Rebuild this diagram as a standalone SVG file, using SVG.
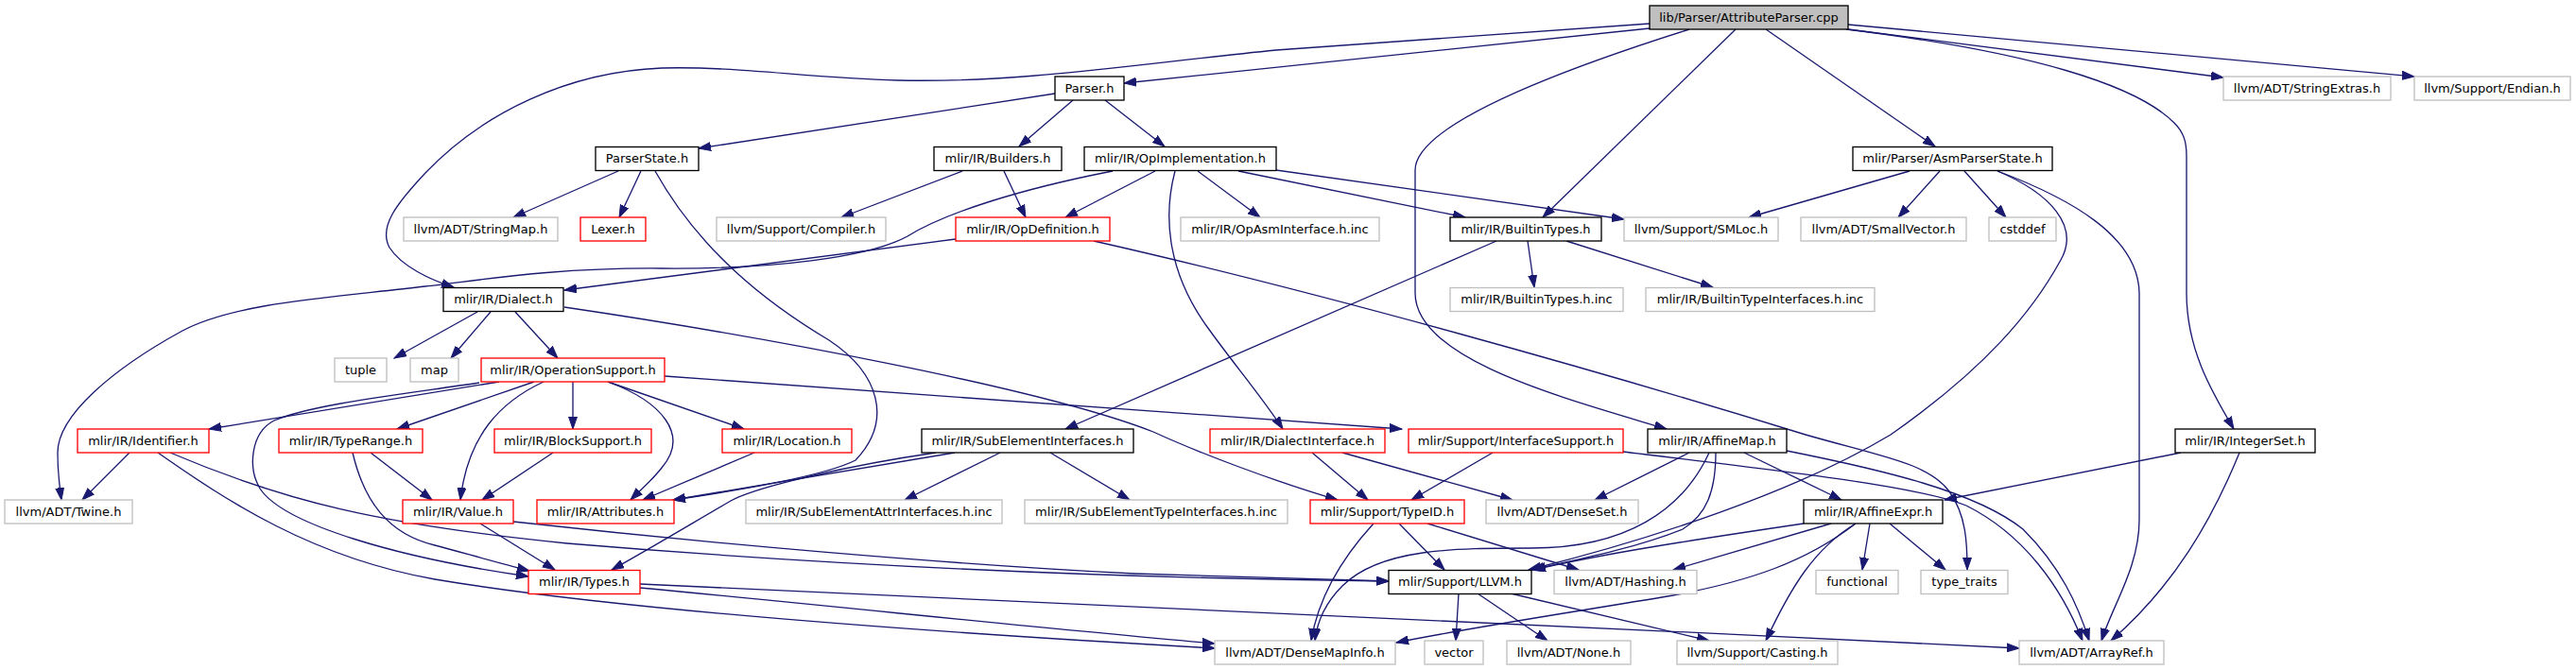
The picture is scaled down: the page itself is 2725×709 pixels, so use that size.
<svg xmlns="http://www.w3.org/2000/svg" width="2725" height="709" viewBox="0 0 2725 709">
<style>
rect{stroke-width:1.33;fill:#fff}
.k rect{stroke:#000}
.g rect{stroke:#bfbfbf}
.r rect{stroke:#ff0000}
.root rect{stroke:#000;fill:#bfbfbf}
text{font-family:"DejaVu Sans","Liberation Sans",sans-serif;font-size:13px;fill:#000;text-anchor:middle}
#edges path{fill:none;stroke:#191970;stroke-width:1.33;marker-end:url(#ah)}
</style>
<defs>
<marker id="ah" markerUnits="userSpaceOnUse" markerWidth="14" markerHeight="10" refX="13" refY="5" orient="auto">
<path d="M0,0.5 L13,5 L0,9.5 z" fill="#191970" stroke="#191970" stroke-width="1"/>
</marker>
</defs>
<g id="edges">
<path d="M1745,30 L1189,88"/>
<path d="M1745,25 L1350,53 C1200,68 1080,88 950,85 C850,82 780,70 700,72 C600,76 510,120 450,183 C420,215 400,240 412,262 C425,282 455,296 480,304"/>
<path d="M1836,31 L1632,230"/>
<path d="M1787,31 C1600,90 1497,140 1497,180 L1497,310 C1497,380 1650,420 1763,454"/>
<path d="M1868,31 L2047,155"/>
<path d="M1955,31 L2352,82"/>
<path d="M1955,26 L2554,81"/>
<path d="M1953,31 C2150,55 2260,90 2300,130 C2310,140 2313,150 2313,165 L2313,310 C2313,370 2340,415 2363,454"/>
<path d="M1116,99 L739,157"/>
<path d="M1135,106 L1078,155"/>
<path d="M1169,106 L1232,155"/>
<path d="M654,181 L543,230"/>
<path d="M678,181 L655,230"/>
<path d="M693,181 C740,265 810,320 877,360 C930,395 945,445 905,487 C870,505 760,522 712,529"/>
<path d="M1018,181 L890,230"/>
<path d="M1062,181 L1085,230"/>
<path d="M1222,181 L1127,230"/>
<path d="M1267,181 L1333,230"/>
<path d="M1310,181 L1550,230"/>
<path d="M1350,180 L1718,232"/>
<path d="M1243,181 C1230,230 1235,290 1280,350 C1305,385 1335,420 1357,454"/>
<path d="M1177,181 C1080,200 1000,225 960,250 C920,272 820,285 700,284 C580,283 500,298 450,303 C350,315 250,320 193,350 C120,390 60,440 61,480 C61,500 63,515 65,529"/>
<path d="M1011,253 L597,307"/>
<path d="M1157,255 C1400,310 1700,395 1910,460 C1990,483 2040,490 2062,520 C2080,545 2081,575 2081,603"/>
<path d="M505,330 L417,379"/>
<path d="M519,330 L477,379"/>
<path d="M545,330 L590,379"/>
<path d="M597,325 C800,355 1100,410 1220,457 C1270,480 1350,510 1415,529"/>
<path d="M2020,181 L1850,230"/>
<path d="M2052,181 L2008,230"/>
<path d="M2078,181 L2122,230"/>
<path d="M2113,181 C2170,205 2200,240 2180,275 C2150,330 2100,390 2000,460 C1900,520 1750,570 1617,603"/>
<path d="M2113,181 C2190,210 2262,250 2263,310 L2263,550 C2263,600 2235,640 2223,678"/>
<path d="M528,404 L221,454"/>
<path d="M507,405 C420,418 330,428 290,445 C265,458 262,495 275,517 C300,555 420,590 559,610"/>
<path d="M565,404 L420,454"/>
<path d="M606,404 L606,454"/>
<path d="M575,404 C530,425 495,460 487,529"/>
<path d="M643,404 C700,425 730,460 700,495 C690,508 678,518 667,529"/>
<path d="M643,404 L787,454"/>
<path d="M703,398 L1483,454"/>
<path d="M137,479 L87,529"/>
<path d="M180,479 C300,530 400,555 600,575 C900,600 1200,612 1469,615"/>
<path d="M167,479 C240,530 330,590 460,613 C650,645 1000,670 1285,686"/>
<path d="M392,479 L457,529"/>
<path d="M373,479 C385,530 410,565 460,577 C490,585 525,595 560,604"/>
<path d="M585,479 L510,529"/>
<path d="M798,479 L680,529"/>
<path d="M508,554 L587,603"/>
<path d="M543,552 C750,575 1000,597 1200,607 L1469,615"/>
<path d="M677,622 C900,643 1100,665 1285,681"/>
<path d="M677,618 C1000,630 1600,660 2136,686"/>
<path d="M1058,479 L957,529"/>
<path d="M1111,479 L1195,529"/>
<path d="M1010,479 L712,529"/>
<path d="M990,479 C900,492 800,515 773,530 C730,555 680,585 647,603"/>
<path d="M1388,479 L1447,529"/>
<path d="M1420,479 L1600,529"/>
<path d="M1579,479 L1493,529"/>
<path d="M1717,478 C1900,500 2030,515 2080,535 C2140,565 2180,620 2203,678"/>
<path d="M1453,554 C1420,590 1395,630 1387,678"/>
<path d="M1480,554 L1528,603"/>
<path d="M1510,554 L1670,603"/>
<path d="M1787,479 L1687,529"/>
<path d="M1845,479 L1948,529"/>
<path d="M1890,477 C1990,497 2090,520 2140,560 C2180,600 2198,640 2210,678"/>
<path d="M1815,479 C1815,520 1805,545 1780,560 C1730,580 1670,592 1620,603"/>
<path d="M1808,479 C1780,540 1720,580 1620,580 C1540,580 1460,580 1420,620 C1400,640 1393,660 1391,678"/>
<path d="M1908,554 C1800,570 1700,585 1622,603"/>
<path d="M1937,554 L1770,603"/>
<path d="M1963,554 C1910,595 1850,615 1770,630 C1650,650 1550,665 1477,680"/>
<path d="M1963,554 C1920,580 1895,620 1868,678"/>
<path d="M1978,554 L1970,603"/>
<path d="M1999,554 L2058,603"/>
<path d="M2307,479 L2057,529"/>
<path d="M2369,479 C2340,550 2300,620 2233,678"/>
<path d="M1543,628 L1540,678"/>
<path d="M1563,628 L1637,678"/>
<path d="M1598,628 L1808,678"/>
<path d="M1583,255 L1127,454"/>
<path d="M1616,255 L1623,304"/>
<path d="M1657,255 L1812,304"/>
</g>
<g id="n_root" class="root"><rect x="1745" y="6" width="210" height="25"/><text x="1850" y="22.5">lib/Parser/AttributeParser.cpp</text></g>
<g id="n_parser" class="k"><rect x="1116" y="81" width="73" height="25"/><text x="1152.5" y="97.5">Parser.h</text></g>
<g id="n_stringextras" class="g"><rect x="2352" y="81" width="177" height="25"/><text x="2440.5" y="97.5">llvm/ADT/StringExtras.h</text></g>
<g id="n_endian" class="g"><rect x="2554" y="81" width="165" height="25"/><text x="2636.5" y="97.5">llvm/Support/Endian.h</text></g>
<g id="n_parserstate" class="k"><rect x="630" y="155.5" width="109" height="25"/><text x="684.5" y="172">ParserState.h</text></g>
<g id="n_builders" class="k"><rect x="988" y="155.5" width="135" height="25"/><text x="1055.5" y="172">mlir/IR/Builders.h</text></g>
<g id="n_opimpl" class="k"><rect x="1147" y="155.5" width="203" height="25"/><text x="1248.5" y="172">mlir/IR/OpImplementation.h</text></g>
<g id="n_asmparserstate" class="k"><rect x="1960" y="155.5" width="211" height="25"/><text x="2065.5" y="172">mlir/Parser/AsmParserState.h</text></g>
<g id="n_stringmap" class="g"><rect x="427" y="230" width="163" height="25"/><text x="508.5" y="246.5">llvm/ADT/StringMap.h</text></g>
<g id="n_lexer" class="r"><rect x="614" y="230" width="69" height="25"/><text x="648.5" y="246.5">Lexer.h</text></g>
<g id="n_compiler" class="g"><rect x="758" y="230" width="179" height="25"/><text x="847.5" y="246.5">llvm/Support/Compiler.h</text></g>
<g id="n_opdef" class="r"><rect x="1011" y="230" width="163" height="25"/><text x="1092.5" y="246.5">mlir/IR/OpDefinition.h</text></g>
<g id="n_opasm" class="g"><rect x="1249" y="230" width="210" height="25"/><text x="1354" y="246.5">mlir/IR/OpAsmInterface.h.inc</text></g>
<g id="n_builtintypes" class="k"><rect x="1534" y="230" width="160" height="25"/><text x="1614" y="246.5">mlir/IR/BuiltinTypes.h</text></g>
<g id="n_smloc" class="g"><rect x="1718" y="230" width="163" height="25"/><text x="1799.5" y="246.5">llvm/Support/SMLoc.h</text></g>
<g id="n_smallvector" class="g"><rect x="1905" y="230" width="175" height="25"/><text x="1992.5" y="246.5">llvm/ADT/SmallVector.h</text></g>
<g id="n_cstddef" class="g"><rect x="2104" y="230" width="71" height="25"/><text x="2139.5" y="246.5">cstddef</text></g>
<g id="n_dialect" class="k"><rect x="469" y="304.5" width="127" height="25"/><text x="532.5" y="321">mlir/IR/Dialect.h</text></g>
<g id="n_btinc" class="g"><rect x="1534" y="304.5" width="183" height="25"/><text x="1625.5" y="321">mlir/IR/BuiltinTypes.h.inc</text></g>
<g id="n_btiinc" class="g"><rect x="1741" y="304.5" width="242" height="25"/><text x="1862" y="321">mlir/IR/BuiltinTypeInterfaces.h.inc</text></g>
<g id="n_tuple" class="g"><rect x="354" y="379" width="55" height="25"/><text x="381.5" y="395.5">tuple</text></g>
<g id="n_map" class="g"><rect x="434" y="379" width="51" height="25"/><text x="459.5" y="395.5">map</text></g>
<g id="n_opsupport" class="r"><rect x="509" y="379" width="194" height="25"/><text x="606" y="395.5">mlir/IR/OperationSupport.h</text></g>
<g id="n_identifier" class="r"><rect x="82" y="454" width="139" height="25"/><text x="151.5" y="470.5">mlir/IR/Identifier.h</text></g>
<g id="n_typerange" class="r"><rect x="295" y="454" width="152" height="25"/><text x="371" y="470.5">mlir/IR/TypeRange.h</text></g>
<g id="n_blocksupport" class="r"><rect x="523" y="454" width="166" height="25"/><text x="606" y="470.5">mlir/IR/BlockSupport.h</text></g>
<g id="n_location" class="r"><rect x="764" y="454" width="137" height="25"/><text x="832.5" y="470.5">mlir/IR/Location.h</text></g>
<g id="n_subelem" class="k"><rect x="975" y="454" width="224" height="25"/><text x="1087" y="470.5">mlir/IR/SubElementInterfaces.h</text></g>
<g id="n_dialectif" class="r"><rect x="1280" y="454" width="185" height="25"/><text x="1372.5" y="470.5">mlir/IR/DialectInterface.h</text></g>
<g id="n_ifsupport" class="r"><rect x="1490" y="454" width="227" height="25"/><text x="1603.5" y="470.5">mlir/Support/InterfaceSupport.h</text></g>
<g id="n_affinemap" class="k"><rect x="1743" y="454" width="147" height="25"/><text x="1816.5" y="470.5">mlir/IR/AffineMap.h</text></g>
<g id="n_integerset" class="k"><rect x="2301" y="454" width="148" height="25"/><text x="2375" y="470.5">mlir/IR/IntegerSet.h</text></g>
<g id="n_twine" class="g"><rect x="5" y="529" width="135" height="25"/><text x="72.5" y="545.5">llvm/ADT/Twine.h</text></g>
<g id="n_value" class="r"><rect x="426" y="529" width="117" height="25"/><text x="484.5" y="545.5">mlir/IR/Value.h</text></g>
<g id="n_attributes" class="r"><rect x="568" y="529" width="145" height="25"/><text x="640.5" y="545.5">mlir/IR/Attributes.h</text></g>
<g id="n_seattr" class="g"><rect x="789" y="529" width="271" height="25"/><text x="924.5" y="545.5">mlir/IR/SubElementAttrInterfaces.h.inc</text></g>
<g id="n_setype" class="g"><rect x="1084" y="529" width="278" height="25"/><text x="1223" y="545.5">mlir/IR/SubElementTypeInterfaces.h.inc</text></g>
<g id="n_typeid" class="r"><rect x="1386" y="529" width="163" height="25"/><text x="1467.5" y="545.5">mlir/Support/TypeID.h</text></g>
<g id="n_denseset" class="g"><rect x="1572" y="529" width="161" height="25"/><text x="1652.5" y="545.5">llvm/ADT/DenseSet.h</text></g>
<g id="n_affineexpr" class="k"><rect x="1908" y="529" width="147" height="25"/><text x="1981.5" y="545.5">mlir/IR/AffineExpr.h</text></g>
<g id="n_types" class="r"><rect x="559" y="603.5" width="118" height="25"/><text x="618" y="620">mlir/IR/Types.h</text></g>
<g id="n_llvm" class="k"><rect x="1469" y="603.5" width="151" height="25"/><text x="1544.5" y="620">mlir/Support/LLVM.h</text></g>
<g id="n_hashing" class="g"><rect x="1644" y="603.5" width="151" height="25"/><text x="1719.5" y="620">llvm/ADT/Hashing.h</text></g>
<g id="n_functional" class="g"><rect x="1921" y="603.5" width="87" height="25"/><text x="1964.5" y="620">functional</text></g>
<g id="n_typetraits" class="g"><rect x="2032" y="603.5" width="92" height="25"/><text x="2078" y="620">type_traits</text></g>
<g id="n_densemapinfo" class="g"><rect x="1285" y="678" width="191" height="25"/><text x="1380.5" y="694.5">llvm/ADT/DenseMapInfo.h</text></g>
<g id="n_vector" class="g"><rect x="1507" y="678" width="62" height="25"/><text x="1538" y="694.5">vector</text></g>
<g id="n_none" class="g"><rect x="1594" y="678" width="131" height="25"/><text x="1659.5" y="694.5">llvm/ADT/None.h</text></g>
<g id="n_casting" class="g"><rect x="1774" y="678" width="170" height="25"/><text x="1859" y="694.5">llvm/Support/Casting.h</text></g>
<g id="n_arrayref" class="g"><rect x="2136" y="678" width="153" height="25"/><text x="2212.5" y="694.5">llvm/ADT/ArrayRef.h</text></g>
</svg>
